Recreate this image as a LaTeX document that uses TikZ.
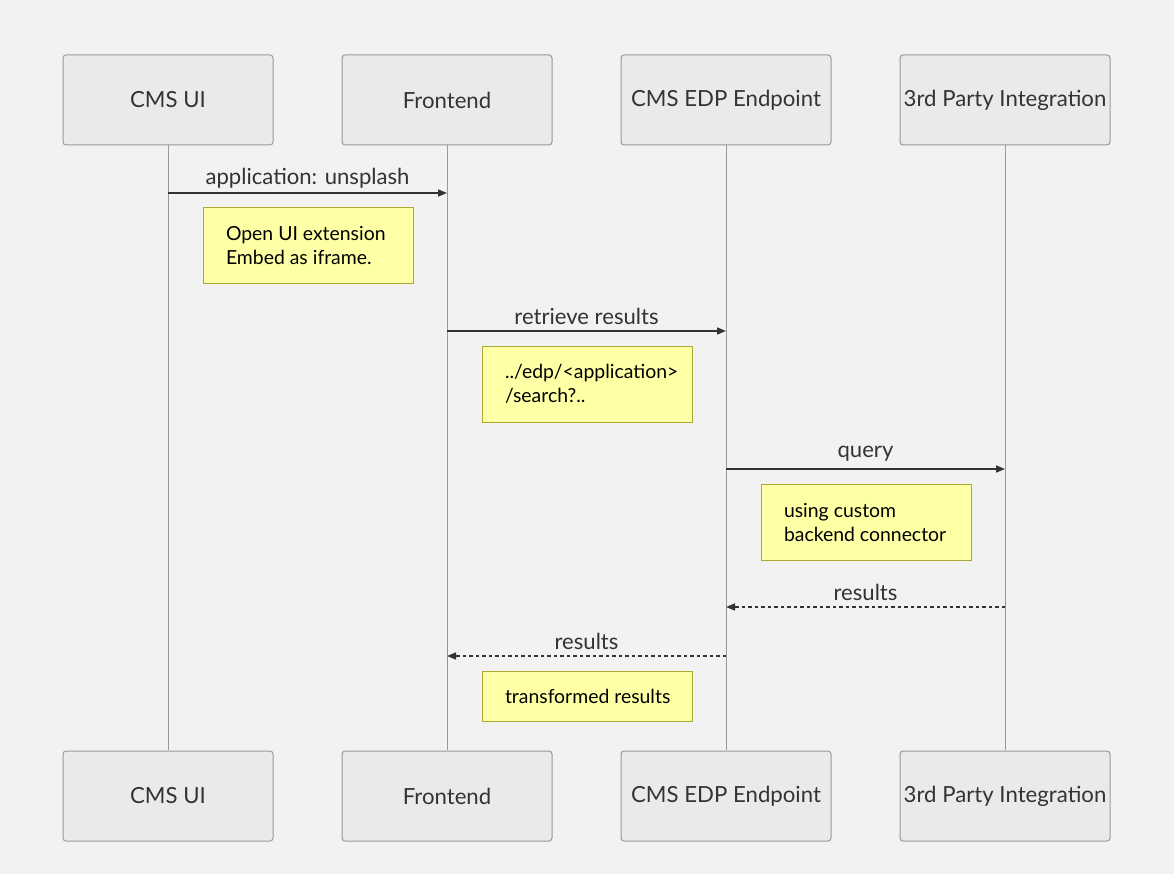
\documentclass[tikz,border=0pt]{standalone}
\usepackage{fontspec}
\setmainfont{Lato}
\usetikzlibrary{arrows.meta}
\definecolor{bgcol}{HTML}{F2F2F2}
\definecolor{actorfill}{HTML}{EAEAEA}
\definecolor{actorline}{HTML}{999999}
\definecolor{notefill}{HTML}{FFFFA5}
\definecolor{noteline}{HTML}{AAAA33}
\definecolor{inkcol}{HTML}{333333}
\tikzset{
  actor/.style={draw=actorline, fill=actorfill, line width=1pt, rounded corners=3pt,
    minimum width=210pt, minimum height=90pt, inner sep=0pt,
    text=inkcol, font=\fontsize{22.2}{26}\selectfont},
  note/.style={draw=noteline, fill=notefill, line width=1pt,
    minimum width=210pt, text width=164pt, align=flush left,
    inner xsep=23pt, inner ysep=0pt, text=black,
    font=\fontsize{19.4}{24}\selectfont},
  lifeline/.style={draw=actorline, line width=0.8pt},
  msg/.style={draw=inkcol, line width=1.5pt, -{Triangle[length=9pt,width=7pt]}},
  reply/.style={msg, dash pattern=on 3.5pt off 3pt},
  msglabel/.style={text=inkcol, font=\fontsize{22.1}{26}\selectfont, inner sep=0pt}
}
\begin{document}
\begin{tikzpicture}[x=1pt, y=-1pt]
  \fill[bgcol] (0,0) rectangle (1174,874);
  \useasboundingbox (0,0) rectangle (1174,874);

  % lifelines first, boxes on top
  \draw[lifeline] (168,144) -- (168,750);
  \draw[lifeline] (447,144) -- (447,750);
  \draw[lifeline] (726,144) -- (726,750);
  \draw[lifeline] (1005,144) -- (1005,750);

  % actors
  \node[actor] (ui)  at (168,100)  {CMS UI};
  \node[actor] (fe)  at (447,100)  {Frontend};
  \node[actor] (edp) at (726,100)  {CMS EDP Endpoint};
  \node[actor] (tp)  at (1005,100) {3rd Party Integration};

  \node[actor] (uib)  at (168,796)  {CMS UI};
  \node[actor] (feb)  at (447,796)  {Frontend};
  \node[actor] (edpb) at (726,796)  {CMS EDP Endpoint};
  \node[actor] (tpb)  at (1005,796) {3rd Party Integration};

  % message rows
  \coordinate (m1) at (0,193);
  \coordinate (m2) at (0,331);
  \coordinate (m3) at (0,469);
  \coordinate (m4) at (0,607);
  \coordinate (m5) at (0,656);

  \draw[msg] (ui |- m1) -- (fe |- m1);
  \node[msglabel] (l1) at (307.5,178) {application: unsplash};
  \node[note, minimum height=76pt] (n1) at (308,246)
    {Open UI extension\\Embed as iframe.};

  \draw[msg] (fe |- m2) -- (edp |- m2);
  \node[msglabel] (l2) at (586.5,316) {retrieve results};
  \node[note, minimum height=76pt] (n2) at (587,384)
    {../edp/<application>\\/search?..};

  \draw[msg] (edp |- m3) -- (tp |- m3);
  \node[msglabel] (l3) at (865.5,454) {query};
  \node[note, minimum height=76pt] (n3) at (866,522)
    {using custom\\backend connector};

  \draw[reply] (tp |- m4) -- (edp |- m4);
  \node[msglabel] (l4) at (865.5,592) {results};

  \draw[reply] (edp |- m5) -- (fe |- m5);
  \node[msglabel] (l5) at (586.5,641) {results};
  \node[note, minimum height=50pt] (n4) at (587,696) {\mbox{transformed results}};
\end{tikzpicture}
\end{document}
